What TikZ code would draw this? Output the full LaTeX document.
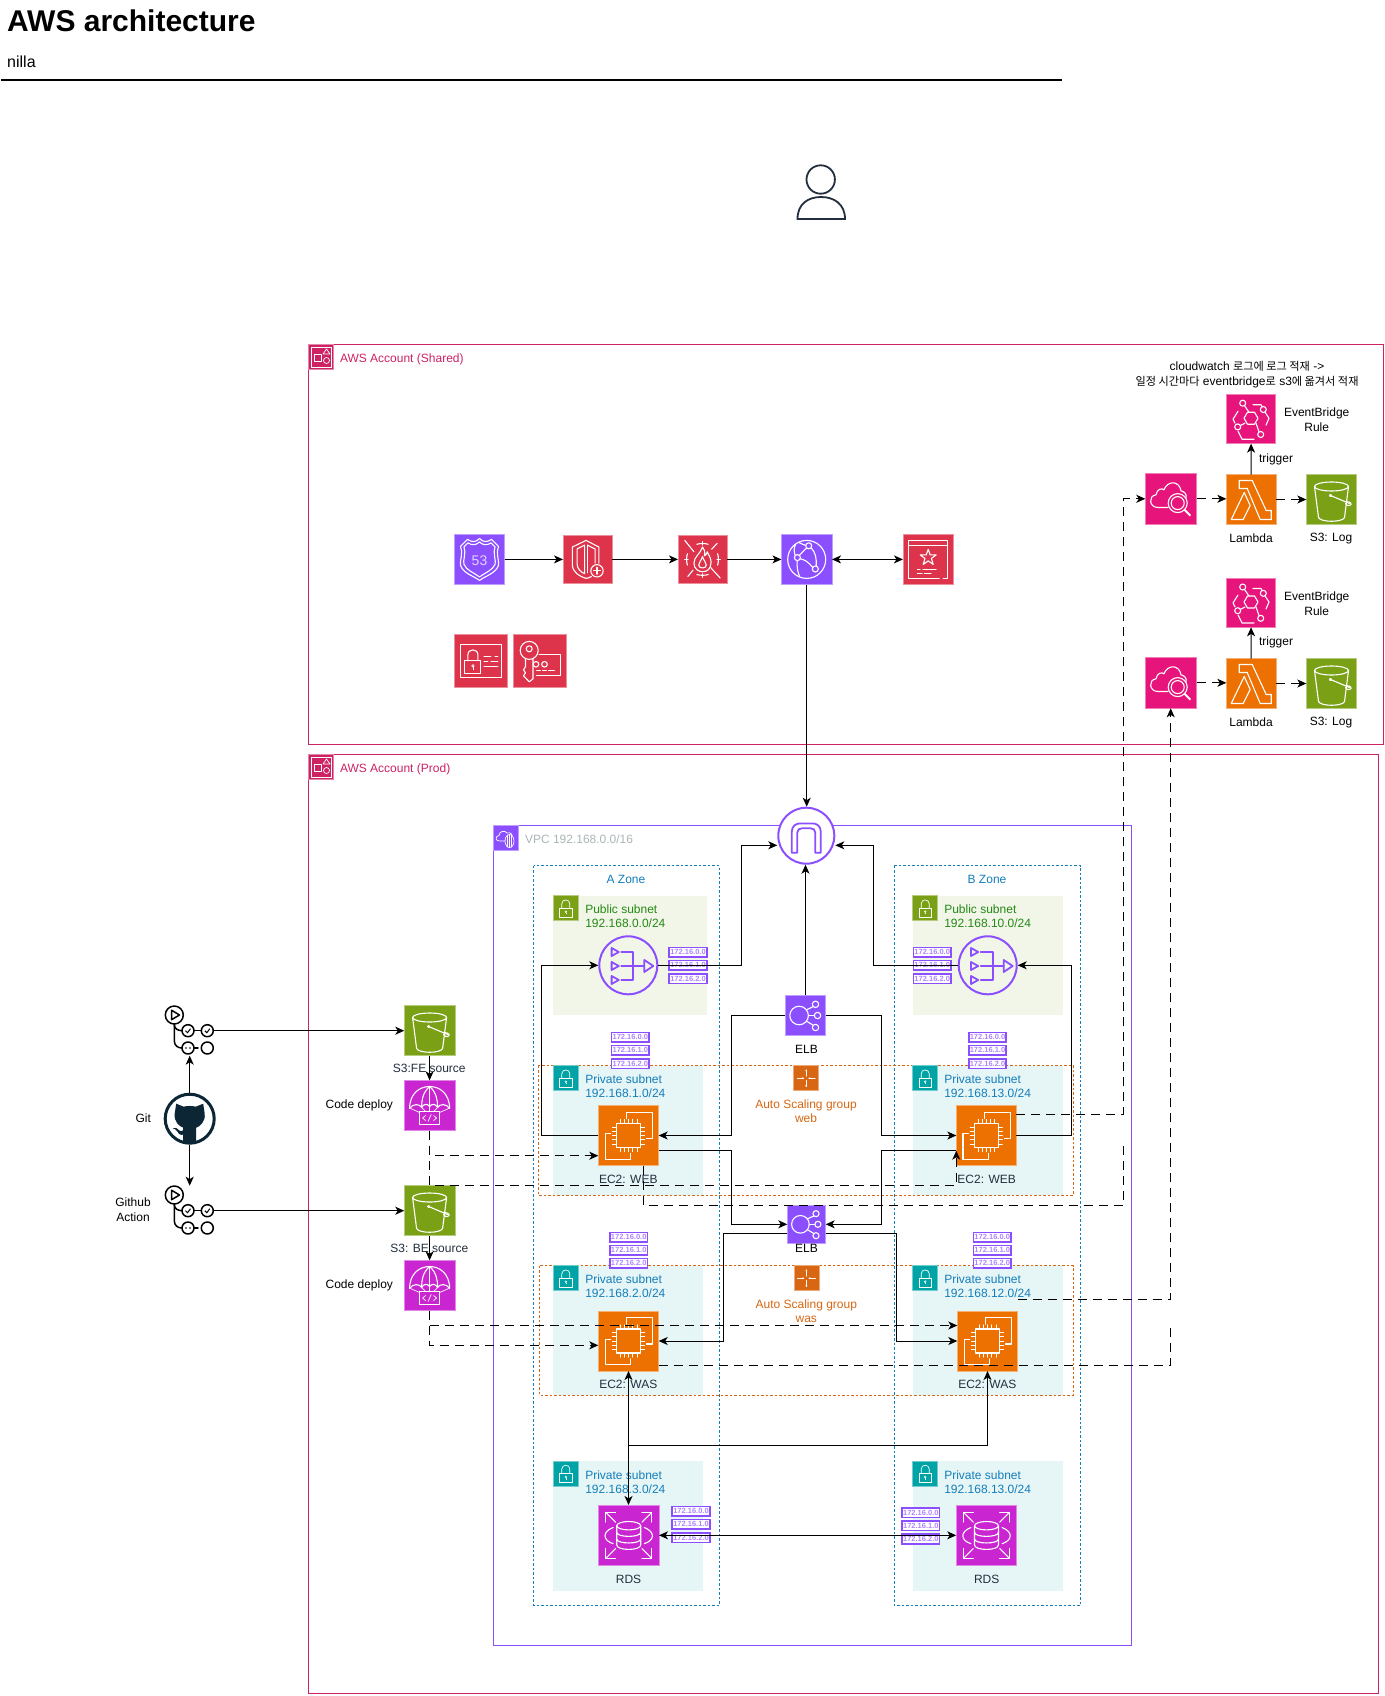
\documentclass[tikz,border=0pt]{standalone}
\usepackage{fontspec}
\setmainfont{Liberation Sans}
\newfontfamily\cjk[Scale=.93]{Noto Sans CJK KR}
\usetikzlibrary{arrows.meta}
\definecolor{cPurple}{HTML}{8C4FFF}
\definecolor{cRed}{HTML}{DD344C}
\definecolor{cPink}{HTML}{E7157B}
\definecolor{cOrange}{HTML}{ED7100}
\definecolor{cGreen}{HTML}{7AA116}
\definecolor{cMag}{HTML}{C925D1}
\definecolor{cAcct}{HTML}{CD2264}
\definecolor{cTeal}{HTML}{00A4A6}
\definecolor{cBlue}{HTML}{147EBA}
\definecolor{cDark}{HTML}{232F3E}
\definecolor{cAsg}{HTML}{D86613}
\definecolor{cPubBg}{HTML}{F2F6E8}
\definecolor{cPrivBg}{HTML}{E6F6F7}
\definecolor{cPubTxt}{HTML}{248814}
\definecolor{cGrey}{HTML}{AAB7B8}
\definecolor{cGit}{HTML}{0D2636}
\newcommand{\lbl}[4][black]{\node[lblstyle,text=#1] (#2) at (#3) {#4};}
\newcommand{\grp}[6]{\path[#2] (#3,#4) rectangle (#5,#6) coordinate (#1);}
\newcommand{\cidr}[5]{%
  \node[cidrbox] (#1a) at (#2,#3) {172.16.0.0};
  \node[cidrbox] (#1b) at (#2,#4) {172.16.1.0};
  \node[cidrbox] (#1c) at (#2,#5) {172.16.2.0};}
\tikzset{
  lblstyle/.style={font=\fontsize{12}{14.5}\selectfont,align=center,inner sep=0pt,outer sep=0pt},
  tile/.style={fill=#1,draw=#1!55!white,line width=.8pt,inner sep=0pt,outer sep=0pt},
  ghost/.style={inner sep=0pt,outer sep=0pt,minimum width=50pt,minimum height=50pt},
  cidrbox/.style={draw=cPurple,line width=1.6pt,fill=white,text=cPurple!70!white,font=\bfseries\fontsize{7.5}{7.5}\selectfont,minimum width=37.5pt,minimum height=9.6pt,inner sep=0pt,outer sep=0pt},
  conn/.style={draw=black,line width=1pt,-{Stealth[length=9pt,width=8pt,inset=2.5pt]}},
  biconn/.style={draw=black,line width=1pt,{Stealth[length=9pt,width=8pt,inset=2.5pt]}-{Stealth[length=9pt,width=8pt,inset=2.5pt]}},
  dconn/.style={conn,dash pattern=on 9pt off 6pt},
  dline/.style={draw=black,line width=1pt,dash pattern=on 9pt off 6pt},
  acct/.style={draw=cAcct,line width=1pt},
  vpcbox/.style={draw=cPurple,line width=1pt},
  zone/.style={draw=cBlue,line width=1pt,dash pattern=on 2.5pt off 2pt},
  asgbox/.style={draw=cAsg,line width=1pt,dash pattern=on 2.5pt off 2pt},
  pubnet/.style={fill=cPubBg},
  privnet/.style={fill=cPrivBg},
  glw/.style={draw=white,line width=1.1pt,line join=round,line cap=round},
  gth/.style={draw=white,line width=.7pt,line join=round,line cap=round},
  gp/.style={draw=cPurple,line width=1.8pt,line join=round,line cap=round},
  gb/.style={draw=black,line width=1.5pt,line cap=round,line join=round},
  pics/gS3/.style={code={
    \draw[glw] (0,-13) ellipse (17 and 4.5);
    \draw[glw] (-17,-13) -- (-13,18) .. controls (-11,23) and (11,23) .. (13,18) -- (17,-13);
    \draw[glw] (-1,-4) -- (18,4);
    \draw[glw] (-1,-4) circle (1);
    \draw[glw] (14,2) .. controls (20,2) and (21,5) .. (18,6) .. controls (16,6) and (15,6) .. (14,4);
  }},
  pics/gLam/.style={code={
    \draw[glw] (-12,-19) -- (1,-19) -- (15,11) -- (20,11) -- (20,20) -- (9,20) -- (-4,-11) -- (-12,-11) -- cycle;
    \draw[glw] (-20,20) -- (-7,-7) -- (-1,6) -- (-8,20) -- cycle;
  }},
  pics/gCW/.style={code={
    \draw[glw] (-3,8.7) -- (-13,8.7) .. controls (-22,8.7) and (-23,-3) .. (-15,-4) .. controls (-14,-10) and (-9,-11) .. (-7,-9) .. controls (-4,-18) and (8,-19) .. (10,-8) .. controls (14,-7) and (16,-4) .. (15,-1);
    \draw[glw] (6.7,4.3) circle (9.5);
    \draw[glw] (6.7,4.3) circle (6.5);
    \draw[glw,line width=2pt] (13.5,11) -- (19,16.5);
  }},
  pics/gEB/.style={code={
    \draw[glw] (-7,-1) -- (-3.5,-7) -- (3.5,-7) -- (7,-1) -- (3.5,5) -- (-3.5,5) -- cycle;
    \draw[glw] (-8.3,-16) circle (3);
    \draw[glw] (12.3,-9.7) circle (3);
    \draw[glw] (-13.3,7.7) circle (3);
    \draw[glw] (9.7,15.3) circle (3);
    \draw[glw] (-6.5,-13.5) -- (-2,-7);
    \draw[glw] (2,-14.5) -- (10,-14.5) -- (11,-12.5);
    \draw[glw] (14,-7) -- (18,-1) -- (15,6);
    \draw[glw] (5,4) -- (8,12.5);
    \draw[glw] (-11,6.5) -- (-6,4);
    \draw[glw] (-16,4) -- (-18,0) -- (-13,-8);
    \draw[glw] (-13,12) -- (-9,20) -- (3,20);
  }},
  pics/gCD/.style={code={
    \draw[glw] (-20,3) .. controls (-20,-12) and (-10,-19) .. (0,-19) .. controls (10,-19) and (20,-12) .. (20,3);
    \draw[glw] (-20,3) .. controls (-17,-2) and (-10,-2) .. (-8,2) .. controls (-6,-2) and (-2,-2) .. (0,1) .. controls (2,-2) and (6,-2) .. (8,2) .. controls (10,-2) and (17,-2) .. (20,3);
    \draw[glw] (0,-19) .. controls (-7,-13) and (-8,-5) .. (-8,2);
    \draw[glw] (0,-19) -- (0,1);
    \draw[glw] (0,-19) .. controls (7,-13) and (8,-5) .. (8,2);
    \draw[gth] (-19,3) -- (-10,7);
    \draw[gth] (19,3) -- (10,7);
    \draw[gth] (-8,2) -- (-4,6);
    \draw[gth] (8,2) -- (4,6);
    \draw[gth] (0,1) -- (0,6);
    \draw[glw] (-10,6) rectangle (10,19);
    \draw[gth] (-4,10) -- (-7,12.5) -- (-4,15);
    \draw[gth] (4,10) -- (7,12.5) -- (4,15);
    \draw[gth] (1.5,9) -- (-1.5,16);
  }},
  pics/gEC2/.style={code={
    \draw[glw] (-10,-10) rectangle (10,10);
    \foreach \p in {-7,-3.5,0,3.5,7}{
      \draw[gth] (\p,-10) -- (\p,-13.5);
      \draw[gth] (\p,10) -- (\p,13.5);
      \draw[gth] (-10,\p) -- (-13.5,\p);
      \draw[gth] (10,\p) -- (13.5,\p);
    }
    \draw[glw] (-1.4,-14) -- (-1.4,-19.4) -- (20,-19.4) -- (20,2.5) -- (15,2.5);
    \draw[glw] (-15,-1.4) -- (-19.4,-1.4) -- (-19.4,19.7) -- (2,19.7) -- (2,15);
  }},
  pics/gRDS/.style={code={
    \foreach \sx/\sy in {1/1,-1/1,1/-1,-1/-1}{
      \draw[glw] (\sx*19,\sy*11) -- (\sx*19,\sy*19) -- (\sx*11,\sy*19);
      \draw[glw] (\sx*19,\sy*19) -- (\sx*11,\sy*11);
    }
    \draw[glw] (0,-8) ellipse (10 and 3.5);
    \draw[glw] (-10,-8) -- (-10,8) .. controls (-10,13) and (10,13) .. (10,8) -- (10,-8);
    \draw[glw] (-10,-2.5) .. controls (-10,2) and (10,2) .. (10,-2.5);
    \draw[glw] (-10,3) .. controls (-10,7.5) and (10,7.5) .. (10,3);
    \draw[glw] (-13,-6.5) .. controls (-22,-3) and (-22,4) .. (-13,7);
    \draw[glw] (13,-6.5) .. controls (22,-3) and (22,4) .. (13,7);
  }},
  pics/gELB/.style={code={
    \draw[glw] (-8,0) circle (11.6);
    \draw[glw] (12.5,-14) circle (4);
    \draw[glw] (15,0) circle (4);
    \draw[glw] (12.5,15) circle (4);
    \draw[glw] (3.5,0) -- (11,0);
    \draw[glw] (1,-7) -- (9.5,-11);
    \draw[glw] (1,7) -- (9.5,12);
  }},
  pics/gASG/.style={code={
    \draw[gth,-{Stealth[length=2pt,width=2pt]}] (-9,0) -- (-2,0);
    \draw[gth,-{Stealth[length=2pt,width=2pt]}] (9,0) -- (2,0);
    \draw[gth,-{Stealth[length=2pt,width=2pt]}] (0,-2) -- (0,-9);
    \draw[gth,-{Stealth[length=2pt,width=2pt]}] (0,2) -- (0,9);
  }},
  pics/gLock/.style={code={
    \draw[gth] (-6.3,0) rectangle (6.3,8.7);
    \draw[gth] (-4,0) -- (-4,-4.5) .. controls (-4,-9.5) and (4,-9.5) .. (4,-4.5) -- (4,0);
    \draw[draw=white,line width=.5pt] (0,3.5) circle (.9);
    \draw[draw=white,line width=.5pt] (0,4.4) -- (0,6);
  }},
  pics/gAcct/.style={code={
    \draw[gth] (-10,-10) rectangle (10,10);
    \draw[gth] (-7,-3) rectangle (0,4);
    \draw[gth] (2,-3) -- (5.5,-8) -- (9,-3) -- cycle;
    \draw[gth] (5.5,3.5) circle (3);
  }},
  pics/gVPC/.style={code={
    \draw[gth] (-1,3) -- (-6.5,3) .. controls (-11,3) and (-11,-2) .. (-7,-2.5) .. controls (-7,-7) and (-1,-8) .. (1,-5) .. controls (3,-6) and (5,-5) .. (6,-3.5);
    \draw[gth] (3.5,3) ellipse (4.5 and 6.5);
    \draw[gth] (3.5,-3.5) -- (3.5,9.5);
    \draw[gth] (1.5,-3) -- (1.5,9);
    \draw[gth] (5.5,-3) -- (5.5,9);
  }},
  pics/gR53/.style={code={
    \draw[glw] (0,-21) .. controls (-3,-17) and (-8,-17) .. (-12,-20) -- (-19,-13) .. controls (-16,-7) and (-20,2) .. (-19,6) .. controls (-16,14) and (-7,16) .. (0,21) .. controls (7,16) and (16,14) .. (19,6) .. controls (20,2) and (16,-7) .. (19,-13) -- (12,-20) .. controls (8,-17) and (3,-17) .. (0,-21) -- cycle;
    \draw[glw] (0,-17.5) .. controls (-3,-14) and (-8,-14) .. (-11.5,-16.5) -- (-15.5,-12.5) .. controls (-13,-7) and (-17,2) .. (-15.5,5) .. controls (-13,11) and (-6,13) .. (0,17.5) .. controls (6,13) and (13,11) .. (15.5,5) .. controls (17,2) and (13,-7) .. (15.5,-12.5) -- (11.5,-16.5) .. controls (8,-14) and (3,-14) .. (0,-17.5) -- cycle;
    \node[text=cPurple!25!white,font=\fontsize{14}{14}\selectfont,inner sep=0pt] (glyph53) at (0,1) {53};
  }},
  pics/gShield/.style={code={
    \draw[glw] (-1.5,-20) -- (-16,-13) -- (-16,5) .. controls (-16,14) and (-8,18) .. (-1.5,20) .. controls (1,19.5) and (3,19) .. (4,18);
    \draw[glw] (-1.5,-20) -- (12,-13) -- (12,4);
    \draw[glw] (-3,-15) -- (-11,-11) -- (-11,5) .. controls (-11,10) and (-6,14) .. (-3,15) -- cycle;
    \draw[glw] (0,-15) -- (8,-11) -- (8,4);
    \draw[glw] (0,-15) -- (0,14);
    \draw[glw] (10,12) circle (6.5);
    \draw[glw] (10,8.5) -- (10,15.5);
    \draw[glw] (6.5,12) -- (13.5,12);
  }},
  pics/gWAF/.style={code={
    \draw[glw] (-18.7,-20) -- (-9,-8);
    \draw[glw] (8.6,8.6) -- (18.6,19.6);
    \draw[glw] (9.6,-10.7) -- (15.4,-16.8);
    \draw[glw] (-15.4,17.9) -- (-10,11.4);
    \draw[glw] (-6,-15.9) .. controls (-3,-17) and (3,-17) .. (6,-15.9);
    \draw[glw] (-6,15.9) .. controls (-3,17) and (3,17) .. (6,15.9);
    \draw[glw] (-15.9,-6) .. controls (-17,-3) and (-17,3) .. (-15.9,6);
    \draw[glw] (15.9,-6) .. controls (17,-3) and (17,3) .. (15.9,6);
    \draw[gth] (0,-19) -- (0,-15);
    \draw[gth] (0,19) -- (0,15);
    \draw[gth] (-19,0) -- (-15,0);
    \draw[gth] (19,0) -- (15,0);
    \draw[glw] (0,-13) .. controls (-2,-6) and (-9,-3) .. (-9,4) .. controls (-9,10) and (-4,13) .. (0,13) .. controls (5,13) and (9,10) .. (9,3) .. controls (9,-2) and (6,-5) .. (5,-8) .. controls (4,-4) and (2,-4) .. (2,-4) .. controls (3,-8) and (2,-11) .. (0,-13) -- cycle;
    \draw[glw] (0,-3) .. controls (-1,1) and (-4,3) .. (-4,6) .. controls (-4,10) and (4,10) .. (4,6) .. controls (4,3) and (1,1) .. (0,-3) -- cycle;
  }},
  pics/gCF/.style={code={
    \draw[glw] (0,0) circle (19);
    \draw[glw] (2,-13.6) circle (3);
    \draw[glw] (-9.3,-1.8) circle (3);
    \draw[glw] (8.6,9.6) circle (3);
    \draw[glw] (-7.5,-4) -- (0,-11.5);
    \draw[glw] (-6.5,-0.5) .. controls (-2,0) and (2,3) .. (6,8);
    \draw[glw] (4.5,-11.5) .. controls (9,-7) and (10,0) .. (9.5,6.5);
    \draw[glw] (-9.5,1.5) .. controls (-10,8) and (-9,13) .. (-7,17);
    \draw[glw] (-11.5,-4) .. controls (-13,-8) and (-13,-12) .. (-11,-15);
    \draw[glw] (-1,-14) .. controls (-4,-15) and (-6,-16) .. (-8,-17);
  }},
  pics/gACM/.style={code={
    \draw[glw] (15,19) -- (19.5,19) -- (19.5,-19) -- (-19.5,-19) -- (-19.5,19) -- (11,19);
    \draw[glw] (-19.5,-14.3) -- (19.5,-14.3);
    \draw[glw] (0,-10) -- (2,-4.5) -- (8,-4.5) -- (3.2,-1) -- (5,5) -- (0,1.5) -- (-5,5) -- (-3.2,-1) -- (-8,-4.5) -- (-2,-4.5) -- cycle;
    \draw[gth] (-11,10) -- (-8,10);
    \draw[gth] (-5.5,10) -- (8,10);
    \draw[gth] (-11,14) -- (-6,14);
    \draw[gth] (-4,14) -- (3,14);
  }},
  pics/gSec/.style={code={
    \draw[glw] (-20.7,-16.4) rectangle (20.7,16.4);
    \draw[glw] (-16.4,0) rectangle (0,12.5);
    \draw[glw] (-13,0) -- (-13,-6) .. controls (-13,-12.5) and (-3,-12.5) .. (-3,-6) -- (-3,0);
    \draw[gth] (-8,5) circle (1.2);
    \draw[gth] (-8,6) -- (-8,9);
    \draw[gth] (3,-4) -- (10,-4);
    \draw[gth] (14,-4) -- (17,-4);
    \draw[gth] (3,1) -- (7,1);
    \draw[gth] (10,1) -- (17,1);
    \draw[gth] (3,5.5) -- (17,5.5);
  }},
  pics/gKMS/.style={code={
    \draw[glw] (-10.3,-10.4) circle (9);
    \draw[glw] (-10.3,-12) circle (3);
    \draw[glw] (-14,-2) -- (-14,6) -- (-16,9) -- (-14,12) -- (-16,15) -- (-10.3,21) -- (-6.5,18) -- (-6.5,-2);
    \draw[glw] (-0.4,-6) -- (21,-6) -- (21,15) -- (-3,15);
    \draw[glw] (-3.5,3.5) circle (2.8);
    \draw[glw] (5,3.5) circle (2.8);
    \draw[gth] (-3,10) -- (1,10);
    \draw[gth] (3,10) -- (7,10);
    \draw[gth] (9,10) -- (15,10);
  }},
  pics/gIGW/.style={code={
    \draw[gp] (-14.5,17) -- (-14.5,-4) .. controls (-14.5,-10) and (-10,-12.3) .. (-6,-12.3) -- (6,-12.3) .. controls (10,-12.3) and (14.5,-10) .. (14.5,-4) -- (14.5,17) -- (9,17) -- (9,-3) .. controls (9,-6) and (7,-7.5) .. (4,-7.5) -- (-4,-7.5) .. controls (-7,-7.5) and (-9,-6) .. (-9,-3) -- (-9,17) -- cycle;
  }},
  pics/gNAT/.style={code={
    \draw[gp] (-16.7,-17.3) -- (-9.5,-13.3) -- (-16.7,-9.3) -- cycle;
    \draw[gp] (-16.7,-3.3) -- (-9.5,0.7) -- (-16.7,4.7) -- cycle;
    \draw[gp] (-16.7,10.7) -- (-9.5,14.7) -- (-16.7,18.7) -- cycle;
    \draw[gp] (-7,-13.3) -- (5,-13.3) -- (5,14.7) -- (-7,14.7);
    \draw[gp] (-7,0.7) -- (16,0.7);
    \draw[gp] (16,-5.3) -- (25,0.7) -- (16,6.7) -- cycle;
  }},
  pics/gGit/.style={code={
    \fill[cGit] (-13.5,-15) -- (-6,-12) .. controls (-3,-13) and (3,-13) .. (6,-12) -- (13.5,-15) -- (15,-5) .. controls (16,3) and (10,8) .. (6.5,9) -- (6.5,25) -- (-6.5,25) -- (-6.5,16) .. controls (-10,17) and (-12,14) .. (-13,12) .. controls (-14,10) and (-16,10) .. (-17,10) .. controls (-14,8) and (-12,10) .. (-10,12) .. controls (-8,13) and (-6.5,13) .. (-6.5,9) .. controls (-10,8) and (-16,3) .. (-15,-5) -- cycle;
  }},
  pics/gAction/.style={code={
    \draw[gb] (-14.7,-15.7) circle (9);
    \draw[gb] (-17.5,-20.5) -- (-9.5,-15.7) -- (-17.5,-11) -- cycle;
    \draw[gb] (-1,0) circle (6);
    \draw[gb] (18.3,0) circle (6);
    \draw[gb] (-1,17.3) circle (6);
    \draw[gb] (18.3,17.3) circle (6);
    \draw[gb] (5,0) -- (12.3,0);
    \draw[gb] (5.5,17.3) -- (9,17.3);
    \draw[gb] (-14.7,-6.7) -- (-14.7,10) .. controls (-14.7,15) and (-11,17.3) .. (-7,17.3);
    \draw[gb] (-14.7,-6) .. controls (-14.7,-2) and (-11,0) .. (-7,0);
    \draw[draw=black,line width=1pt] (-3.5,0) -- (-1.5,2) -- (1.5,-2);
    \draw[draw=black,line width=1pt] (15.8,0) -- (17.8,2) -- (20.8,-2);
    \fill (-3,17.3) circle (.9);
    \fill (1,17.3) circle (.9);
  }},
}
\begin{document}
\begin{tikzpicture}[x=1pt,y=-1pt]
\useasboundingbox (0,0) rectangle (1384,1696);
\fill[white] (0,0) rectangle (1384,1696);

% heading
\node[anchor=west,inner sep=0pt,font=\bfseries\fontsize{30}{30}\selectfont] (title) at (7,21) {AWS architecture};
\node[anchor=west,inner sep=0pt,font=\fontsize{16}{16}\selectfont] (subtitle) at (7,62) {nilla};
\draw[line width=2pt] (1,80) -- (1062,80);

% user
\node[ghost] (user) at (821,198) {};
\draw[draw=cDark,line width=1.8pt] (820.7,179.5) circle (14.2);
\draw[draw=cDark,line width=1.8pt] (797.5,219) .. controls (797.5,204) and (808,197) .. (821,197) .. controls (834,197) and (845,204) .. (845,219) -- cycle;

% accounts
\grp{acctS}{acct}{308.5}{344.5}{1383}{744.5}
\grp{acctP}{acct}{308.5}{754.5}{1378.5}{1693.5}
\node[tile=cAcct,minimum width=25pt,minimum height=25pt] (acctSi) at (321,357) {};
\pic at (acctSi.center) {gAcct};
\node[tile=cAcct,minimum width=25pt,minimum height=25pt] (acctPi) at (321,767) {};
\pic at (acctPi.center) {gAcct};
\node[anchor=west,lblstyle,text=cAcct] (acctSl) at (340,359.3) {AWS Account (Shared)};
\node[anchor=west,lblstyle,text=cAcct] (acctPl) at (340,769.3) {AWS Account (Prod)};

% vpc
\grp{vpc}{vpcbox}{493.5}{825.5}{1131.5}{1645}
\node[tile=cPurple,minimum width=25pt,minimum height=25pt] (vpci) at (506,838) {};
\pic at (vpci.center) {gVPC};
\node[anchor=west,lblstyle,text=cGrey] (vpcl) at (525,839.5) {VPC 192.168.0.0/16};

% subnets
\grp{pubA}{pubnet}{553.3}{895.7}{707.3}{1015.3}
\grp{pubB}{pubnet}{912.7}{895.7}{1062.7}{1015.3}
\grp{webA}{privnet}{553.3}{1065.7}{703.3}{1195}
\grp{webB}{privnet}{912.7}{1065.7}{1062.7}{1195}
\grp{wasA}{privnet}{553.3}{1265.7}{703.3}{1395}
\grp{wasB}{privnet}{912.7}{1265.7}{1062.7}{1395}
\grp{rdA}{privnet}{553.3}{1461}{703.3}{1590.7}
\grp{rdB}{privnet}{912.7}{1461}{1062.7}{1590.7}

% zones and scaling groups
\grp{zoneA}{zone}{533.7}{865.7}{719.3}{1605.3}
\grp{zoneB}{zone}{894.3}{865.7}{1080.7}{1605.3}
\grp{asgW}{asgbox}{538.3}{1065.7}{1073.3}{1195.3}
\grp{asgA}{asgbox}{539.3}{1265.7}{1073.3}{1395}
\lbl[cBlue]{zoneAl}{626,879.7}{A Zone}
\lbl[cBlue]{zoneBl}{987,879.7}{B Zone}

% subnet tiles and text
\foreach \nm/\cx/\cy/\co in {pubAi/565.8/908.2/cGreen,pubBi/925.2/908.2/cGreen,webAi/565.8/1078.2/cTeal,webBi/925.2/1078.2/cTeal,wasAi/565.8/1278.2/cTeal,wasBi/925.2/1278.2/cTeal,rdAi/565.8/1473.5/cTeal,rdBi/925.2/1473.5/cTeal}{
  \node[tile=\co,minimum width=25pt,minimum height=25pt] (\nm) at (\cx,\cy) {};
  \pic at (\nm.center) {gLock};
}
\node[anchor=west,lblstyle,align=left,text=cPubTxt] (pubAl) at (585.3,916) {Public subnet\\192.168.0.0/24};
\node[anchor=west,lblstyle,align=left,text=cPubTxt] (pubBl) at (944.3,916) {Public subnet\\192.168.10.0/24};
\node[anchor=west,lblstyle,align=left,text=cBlue] (webAl) at (585.3,1086) {Private subnet\\192.168.1.0/24};
\node[anchor=west,lblstyle,align=left,text=cBlue] (webBl) at (944.3,1086) {Private subnet\\192.168.13.0/24};
\node[anchor=west,lblstyle,align=left,text=cBlue] (wasAl) at (585.3,1286) {Private subnet\\192.168.2.0/24};
\node[anchor=west,lblstyle,align=left,text=cBlue] (wasBl) at (944.3,1286) {Private subnet\\192.168.12.0/24};
\node[anchor=west,lblstyle,align=left,text=cBlue] (rdAl) at (585.3,1482) {Private subnet\\192.168.3.0/24};
\node[anchor=west,lblstyle,align=left,text=cBlue] (rdBl) at (944.3,1482) {Private subnet\\192.168.13.0/24};

% address stacks
\cidr{cpa}{688}{952.3}{965.3}{978.7}
\cidr{cpb}{932.2}{952.3}{965.3}{978.7}
\cidr{cwa}{630.3}{1037.3}{1050.3}{1063.7}
\cidr{cwb}{987.5}{1037.3}{1050.3}{1063.7}
\cidr{caa}{628.7}{1237.3}{1250.3}{1263.3}
\cidr{cab}{992.2}{1237.3}{1250.3}{1263.3}
\cidr{cra}{691}{1511.3}{1524.3}{1537.7}
\cidr{crb}{920.8}{1512.7}{1525.7}{1539}

% shared services
\node[tile=cPurple,minimum width=50pt,minimum height=50.4pt] (r53) at (479.5,559.4) {};
\pic at (r53.center) {gR53};
\node[tile=cRed,minimum width=49pt,minimum height=48.4pt] (shield) at (587.5,559.4) {};
\pic[scale=.95] at (shield.center) {gShield};
\node[tile=cRed,minimum width=49pt,minimum height=48.4pt] (waf) at (702.5,559.4) {};
\pic[scale=.95] at (waf.center) {gWAF};
\node[tile=cPurple,minimum width=50.6pt,minimum height=50.4pt] (cf) at (806.7,559.4) {};
\pic at (cf.center) {gCF};
\node[tile=cRed,minimum width=50.5pt,minimum height=50.4pt] (acm) at (928.2,559.4) {};
\pic at (acm.center) {gACM};
\node[tile=cRed,minimum width=53pt,minimum height=53pt] (secret) at (480.9,660.8) {};
\pic at (secret.center) {gSec};
\node[tile=cRed,minimum width=53pt,minimum height=53pt] (kms) at (539.5,660.8) {};
\pic at (kms.center) {gKMS};

% logging
\node[tile=cPink,minimum width=51.4pt,minimum height=51pt] (cw1) at (1171,498.8) {};
\pic at (cw1.center) {gCW};
\node[tile=cOrange,minimum width=49.7pt,minimum height=49.6pt] (lam1) at (1251.2,499.5) {};
\pic at (lam1.center) {gLam};
\node[tile=cGreen,minimum width=50.4pt,minimum height=49.6pt] (logA) at (1331.5,499.5) {};
\pic at (logA.center) {gS3};
\node[tile=cPink,minimum width=49.4pt,minimum height=49pt] (eb1) at (1251,419.2) {};
\pic at (eb1.center) {gEB};
\node[tile=cPink,minimum width=51.4pt,minimum height=51pt] (cw2) at (1171,682.8) {};
\pic at (cw2.center) {gCW};
\node[tile=cOrange,minimum width=49.7pt,minimum height=49.6pt] (lam2) at (1251.2,683.5) {};
\pic at (lam2.center) {gLam};
\node[tile=cGreen,minimum width=50.4pt,minimum height=49.6pt] (logB) at (1331.5,683.5) {};
\pic at (logB.center) {gS3};
\node[tile=cPink,minimum width=49.4pt,minimum height=48.6pt] (eb2) at (1251,603) {};
\pic at (eb2.center) {gEB};
\lbl{note}{1247,374.8}{cloudwatch {\cjk 로그에 로그 적재} ->\\{\cjk 일정 시간마다} eventbridge{\cjk 로} s3{\cjk 에 옮겨서 적재}}
\lbl{eb1l}{1316.7,419.5}{EventBridge\\Rule}
\lbl{eb2l}{1316.7,603.5}{EventBridge\\Rule}
\lbl{trg1}{1276,459}{trigger}
\lbl{trg2}{1276,642.7}{trigger}
\lbl{lam1l}{1251,538}{Lambda}
\lbl{lam2l}{1251,722}{Lambda}
\lbl{logAl}{1331,539}{S3: Log}
\lbl{logBl}{1331,723}{S3: Log}

% ci/cd
\node[ghost] (gha1) at (189,1030.7) {};
\pic at (gha1.center) {gAction};
\node[ghost] (gha2) at (189,1210.7) {};
\pic at (gha2.center) {gAction};
\node[circle,draw=cGit,line width=3pt,fill=white,minimum size=49pt,inner sep=0pt,outer sep=1.5pt] (git) at (189.7,1118.7) {};
\begin{scope}
\clip (git.center) circle (24.5);
\pic at (git.center) {gGit};
\end{scope}
\node[tile=cGreen,minimum width=50.7pt,minimum height=50.4pt] (s3fe) at (429.6,1030.5) {};
\pic at (s3fe.center) {gS3};
\node[tile=cMag,minimum width=50.7pt,minimum height=50.4pt] (cd1) at (429.6,1105.5) {};
\pic at (cd1.center) {gCD};
\node[tile=cGreen,minimum width=50.7pt,minimum height=50.4pt] (s3be) at (429.6,1210.5) {};
\pic at (s3be.center) {gS3};
\node[tile=cMag,minimum width=50.7pt,minimum height=50.4pt] (cd2) at (429.6,1285.5) {};
\pic at (cd2.center) {gCD};
\lbl{gitl}{143.3,1118.5}{Git}
\lbl{ghl}{133,1209.5}{Github\\Action}
\lbl[cDark]{s3fel}{429.3,1068.7}{S3:FE source}
\lbl[cDark]{s3bel}{429.3,1248.7}{S3: BE source}
\lbl{cd1l}{359.3,1105.5}{Code deploy}
\lbl{cd2l}{359.3,1285.8}{Code deploy}

% network
\node[circle,draw=cPurple,line width=2pt,fill=white,minimum size=56pt,inner sep=0pt,outer sep=1pt] (igw) at (806.3,835.7) {};
\pic at (igw.center) {gIGW};
\node[circle,draw=cPurple,line width=2pt,fill=none,minimum size=58pt,inner sep=0pt,outer sep=1pt] (natA) at (628.3,965.3) {};
\pic at (natA.center) {gNAT};
\node[circle,draw=cPurple,line width=2pt,fill=none,minimum size=58pt,inner sep=0pt,outer sep=1pt] (natB) at (987.7,965.3) {};
\pic at (natB.center) {gNAT};
\node[tile=cPurple,minimum width=40.4pt,minimum height=40.4pt] (elb1) at (805.5,1015.5) {};
\pic[scale=.8] at (elb1.center) {gELB};
\node[tile=cPurple,minimum width=38.4pt,minimum height=38pt] (elb2) at (806.5,1224.3) {};
\pic[scale=.76] at (elb2.center) {gELB};
\node[tile=cAsg,minimum width=25pt,minimum height=25pt] (asg1) at (806.2,1078.2) {};
\pic at (asg1.center) {gASG};
\node[tile=cAsg,minimum width=25pt,minimum height=25pt] (asg2) at (806.4,1278.2) {};
\pic at (asg2.center) {gASG};
\node[tile=cOrange,minimum width=60.4pt,minimum height=60.4pt] (ec2aw) at (628.5,1135.5) {};
\pic[scale=1.2] at (ec2aw.center) {gEC2};
\node[tile=cOrange,minimum width=60pt,minimum height=60.4pt] (ec2bw) at (986.3,1135.5) {};
\pic[scale=1.2] at (ec2bw.center) {gEC2};
\node[tile=cOrange,minimum width=60.4pt,minimum height=60pt] (ec2aa) at (628.5,1341) {};
\pic[scale=1.2] at (ec2aa.center) {gEC2};
\node[tile=cOrange,minimum width=60.4pt,minimum height=60pt] (ec2ba) at (987.5,1341) {};
\pic[scale=1.2] at (ec2ba.center) {gEC2};
\node[tile=cMag,minimum width=60.6pt,minimum height=60.7pt] (rdsa) at (628.7,1535.3) {};
\pic[scale=1.2] at (rdsa.center) {gRDS};
\node[tile=cMag,minimum width=60.6pt,minimum height=60.7pt] (rdsb) at (986.5,1535.3) {};
\pic[scale=1.2] at (rdsb.center) {gRDS};
\lbl{elb1l}{806.5,1049.5}{ELB}
\lbl{elb2l}{806.5,1248.8}{ELB}
\lbl[cAsg]{asg1l}{806,1111}{Auto Scaling group\\web}
\lbl[cAsg]{asg2l}{806.3,1311}{Auto Scaling group\\was}
\lbl[cDark]{ec2awl}{628.3,1179}{EC2: WEB}
\lbl[cDark]{ec2bwl}{986.7,1179}{EC2: WEB}
\lbl[cDark]{ec2aal}{628.3,1384.6}{EC2: WAS}
\lbl[cDark]{ec2bal}{987.3,1384.6}{EC2: WAS}
\lbl[cDark]{rdsal}{628.5,1579.3}{RDS}
\lbl[cDark]{rdsbl}{986.7,1579.3}{RDS}

% free ends
\coordinate (webDashEnd) at (1123.3,1145);
\coordinate (wasDashEnd) at (1170.7,1325);
\coordinate (wasBOut) at (1017.7,1299.3);
\coordinate (rdsFork) at (628.5,1445.3);

% connectors: shared
\draw[conn] (r53) -- (shield);
\draw[conn] (shield) -- (waf);
\draw[conn] (waf) -- (cf);
\draw[biconn] (cf) -- (acm);
\draw[conn] (cf.south) -- (cf.south |- igw.north);

% connectors: logging
\draw[conn] (lam1) -- (eb1);
\draw[conn] (lam2) -- (eb2);
\draw[dconn] (cw1.east) -- (cw1.east -| lam1.west);
\draw[dconn] (lam1) -- (logA);
\draw[dconn] (cw2.east) -- (cw2.east -| lam2.west);
\draw[dconn] (lam2) -- (logB);

% connectors: ci/cd
\draw[conn] (gha1) -- (gha1 -| s3fe.west);
\draw[conn] (gha2) -- (gha2 -| s3be.west);
\draw[conn] (git.north) -- (git.north |- gha1.south);
\draw[conn] (git.south) -- (git.south |- gha2.north);
\draw[conn] (s3fe) -- (cd1);
\draw[conn] (s3be) -- (cd2);

% connectors: network
\draw[conn] (natA.east) -- (741.7,965.3) -- (741.7,845.3) -- ([yshift=-9.6pt]igw.west);
\draw[conn] (natB.west) -- (873.3,965.3) -- (873.3,845.3) -- ([yshift=-9.6pt]igw.east);
\draw[conn] (ec2aw.west) -- (541.3,1135.5) -- (541.3,965.3) -- (natA.west);
\draw[conn] (ec2bw.east) -- (1071.7,1135.5) -- (1071.7,965.3) -- (natB.east);
\draw[conn] (elb1.north) -- (elb1.north |- igw.south);
\draw[conn] (elb1.west) -- (731.3,1015.5) -- (731.3,1135.5) -- (ec2aw.east);
\draw[conn] (elb1.east) -- (881.3,1015.5) -- (881.3,1135.5) -- (ec2bw.west);
\draw[conn] ([yshift=-14.8pt]ec2aw.east) -- (731.3,1150.3) -- (731.3,1224.3) -- (elb2.west);
\draw[conn] ([yshift=-14.8pt]ec2bw.west) -- (881.5,1150.3) -- (881.5,1224.3) -- (elb2.east);
\draw[conn] ([yshift=-9.4pt]elb2.west) -- (723.3,1233.7) -- (723.3,1341) -- (ec2aa.east);
\draw[conn] ([yshift=-9.4pt]elb2.east) -- (896.3,1233.7) -- (896.3,1341) -- (ec2ba.west);
\draw[biconn] (ec2aa.south) -- (ec2aa.south |- rdsa.north);
\draw[line width=1pt] (rdsFork) -- (987.5,1445.3);
\draw[conn] (987.5,1445.3) -- (ec2ba.south);
\draw[biconn] (rdsa.east) -- (rdsb.west);

% connectors: dashed
\draw[dconn] (cd1.south) -- (429.6,1155.7) -- ([yshift=-20.2pt]ec2aw.west);
\draw[dconn] (cd1.south) -- (429.6,1185.3) -- (956.3,1185.3) -- ([yshift=-15.2pt]ec2bw.west);
\draw[dconn] (cd2.south) -- (429.6,1325.5) -- ([yshift=15.5pt]ec2ba.west);
\draw[dconn] (cd2.south) -- (429.6,1345.3) -- ([yshift=-4.3pt]ec2aa.west);
\draw[dconn] ([yshift=21.2pt]ec2bw.east) -- (1123.3,1114.3) -- (1123.3,498.8) -- (cw1.west);
\draw[dline] ([xshift=14.8pt]ec2aw.south) -- (643.3,1205.3) -- (1123.3,1205.3) -- (webDashEnd);
\draw[dline] ([yshift=-24.3pt]ec2aa.east) -- (1170.7,1365.3) -- (wasDashEnd);
\draw[dconn] (wasBOut) -- (1170.7,1299.3) -- (1170.7,708.3);
\end{tikzpicture}
\end{document}
